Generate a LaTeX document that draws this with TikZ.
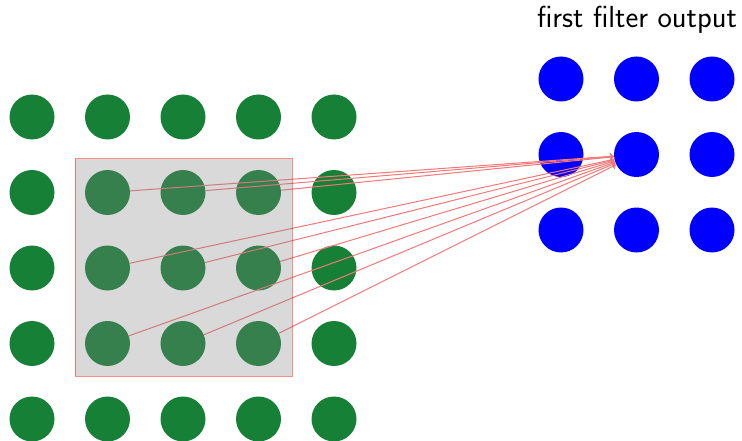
\documentclass[tikz,border=0pt]{standalone}
\usepackage{xcolor}
\usetikzlibrary{arrows.meta}
\definecolor{gdot}{RGB}{22,128,55}
\definecolor{bdot}{RGB}{0,0,255}
\definecolor{lnk}{RGB}{245,120,120}
\tikzset{
  gcirc/.style={circle, fill=gdot, minimum size=45pt, inner sep=0pt},
  bcirc/.style={circle, fill=bdot, minimum size=45pt, inner sep=0pt},
  link/.style={draw=lnk, line width=1pt, -{To[length=4pt,width=7pt]}},
  window/.style={draw=red, draw opacity=0.45, fill=gray, fill opacity=0.3, line width=1pt},
  title/.style={font=\sffamily\fontsize{30.5}{34}\selectfont, inner sep=0pt}
}
\begin{document}
\begin{tikzpicture}[x=1pt,y=-1pt]
\useasboundingbox (0,0) rectangle (742,441);
% green input grid
\foreach \i/\x in {0/32,1/107.5,2/183,3/258.5,4/334}{
  \foreach \j/\y in {0/117,1/192.5,2/268,3/343.5,4/419}{
    \node[gcirc] (g\i\j) at (\x,\y) {};
  }
}
% blue output grid
\foreach \i/\x in {0/561,1/636.5,2/712}{
  \foreach \j/\y in {0/79,1/154.5,2/230}{
    \node[bcirc] (b\i\j) at (\x,\y) {};
  }
}
\node[title, anchor=base] (ttl) at (637,28) {first filter output};
% connectors
\foreach \i in {1,2,3}{
  \foreach \j in {1,2,3}{
    \draw[link] (g\i\j) -- (b11);
  }
}
% filter window
\draw[window] (75,159) rectangle (292,376);
\end{tikzpicture}
\end{document}
